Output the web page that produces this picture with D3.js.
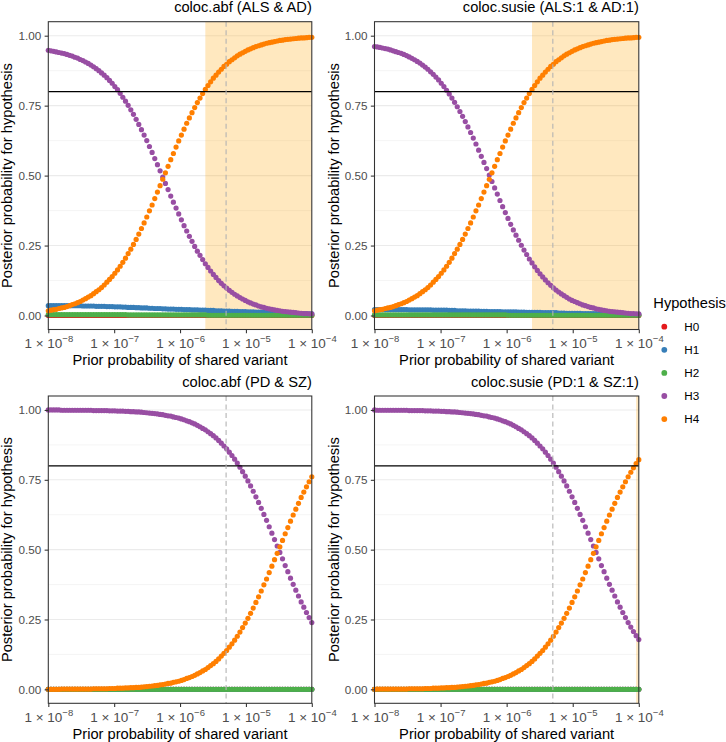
<!DOCTYPE html>
<html><head><meta charset="utf-8">
<script src="https://cdn.jsdelivr.net/npm/d3@7"></script>
<style>
body{margin:0;background:#fff}
svg{display:block}
text{font-family:"Liberation Sans",Arial,Helvetica,sans-serif}
</style>
</head><body>
<svg id="chart" width="726" height="742"></svg>
<script>
// ---------------- DATA ----------------
const hypotheses = ["H0", "H1", "H2", "H3", "H4"];
const hypColors = ["#E41A1C", "#377EB8", "#4DAF4A", "#984EA3", "#FF7F00"];
const panelTitles = ["coloc.abf (ALS & AD)", "coloc.susie (ALS:1 & AD:1)", "coloc.abf (PD & SZ)", "coloc.susie (PD:1 & SZ:1)"];
const xTickValues = [1e-8, 1e-7, 1e-6, 1e-5, 1e-4];
const xTickExponents = ["−8", "−7", "−6", "−5", "−4"];
const yTickValues = [0, 0.25, 0.5, 0.75, 1];
const yTickLabels = ["0.00", "0.25", "0.50", "0.75", "1.00"];
const yMinorValues = [0.125, 0.375, 0.625, 0.875];
const thresholdPP = 0.8;
const usedPrior = 5e-6;
const xTitle = "Prior probability of shared variant";
const yTitle = "Posterior probability for hypothesis";
const legendTitle = "Hypothesis";

// log10 of the prior probability of a shared variant (p12) at each point
const priorLog10 = [
-8.0000,-7.9596,-7.9192,-7.8788,-7.8384,-7.7980,-7.7576,-7.7172,-7.6768,-7.6364,
-7.5960,-7.5556,-7.5152,-7.4747,-7.4343,-7.3939,-7.3535,-7.3131,-7.2727,-7.2323,
-7.1919,-7.1515,-7.1111,-7.0707,-7.0303,-6.9899,-6.9495,-6.9091,-6.8687,-6.8283,
-6.7879,-6.7475,-6.7071,-6.6667,-6.6263,-6.5859,-6.5455,-6.5051,-6.4646,-6.4242,
-6.3838,-6.3434,-6.3030,-6.2626,-6.2222,-6.1818,-6.1414,-6.1010,-6.0606,-6.0202,
-5.9798,-5.9394,-5.8990,-5.8586,-5.8182,-5.7778,-5.7374,-5.6970,-5.6566,-5.6162,
-5.5758,-5.5354,-5.4949,-5.4545,-5.4141,-5.3737,-5.3333,-5.2929,-5.2525,-5.2121,
-5.1717,-5.1313,-5.0909,-5.0505,-5.0101,-4.9697,-4.9293,-4.8889,-4.8485,-4.8081,
-4.7677,-4.7273,-4.6869,-4.6465,-4.6061,-4.5657,-4.5253,-4.4848,-4.4444,-4.4040,
-4.3636,-4.3232,-4.2828,-4.2424,-4.2020,-4.1616,-4.1212,-4.0808,-4.0404,-4.0000];

// ---- Panel 1: coloc.abf (ALS & AD)
const alsAdAbf_H0 = [
0,0,0,0,0,0,0,0,0,0, 0,0,0,0,0,0,0,0,0,0, 0,0,0,0,0,0,0,0,0,0, 0,0,0,0,0,0,0,0,0,0, 0,0,0,0,0,0,0,0,0,0,
0,0,0,0,0,0,0,0,0,0, 0,0,0,0,0,0,0,0,0,0, 0,0,0,0,0,0,0,0,0,0, 0,0,0,0,0,0,0,0,0,0, 0,0,0,0,0,0,0,0,0,0];
const alsAdAbf_H1 = [
0.035,0.035,0.035,0.035,0.035,0.035,0.035,0.035,0.035,0.035,
0.035,0.035,0.035,0.034,0.034,0.034,0.034,0.034,0.033,0.033,
0.033,0.033,0.032,0.032,0.032,0.031,0.031,0.031,0.030,0.030,
0.029,0.029,0.029,0.028,0.028,0.027,0.027,0.027,0.026,0.026,
0.025,0.025,0.025,0.024,0.024,0.023,0.023,0.023,0.022,0.022,
0.022,0.021,0.021,0.021,0.020,0.020,0.020,0.019,0.019,0.019,
0.018,0.018,0.018,0.017,0.017,0.017,0.016,0.016,0.016,0.015,
0.015,0.015,0.014,0.014,0.014,0.013,0.013,0.013,0.012,0.012,
0.012,0.011,0.011,0.011,0.010,0.010,0.010,0.009,0.009,0.009,
0.008,0.008,0.008,0.008,0.007,0.007,0.007,0.007,0.006,0.006];
const alsAdAbf_H2 = [
0.003,0.003,0.003,0.003,0.003,0.003,0.003,0.003,0.003,0.003,
0.003,0.003,0.003,0.003,0.003,0.003,0.003,0.003,0.003,0.003,
0.003,0.003,0.003,0.003,0.003,0.003,0.003,0.003,0.003,0.003,
0.002,0.002,0.002,0.002,0.002,0.002,0.002,0.002,0.002,0.002,
0.002,0.002,0.002,0.002,0.002,0.002,0.002,0.002,0.002,0.002,
0.002,0.002,0.002,0.002,0.002,0.002,0.002,0.002,0.002,0.002,
0.001,0.001,0.001,0.001,0.001,0.001,0.001,0.001,0.001,0.001,
0.001,0.001,0.001,0.001,0.001,0.001,0.001,0.001,0.001,0.001,
0.001,0.001,0.001,0.001,0.001,0.001,0.001,0.001,0.001,0.001,
0.001,0.001,0.001,0.001,0.001,0.001,0.001,0.001,0.001,0.001];
const alsAdAbf_H3 = [
0.948,0.946,0.944,0.942,0.940,0.938,0.936,0.933,0.930,0.927,
0.923,0.920,0.915,0.911,0.906,0.901,0.895,0.889,0.882,0.875,
0.867,0.859,0.850,0.840,0.830,0.818,0.807,0.794,0.780,0.766,
0.751,0.735,0.719,0.701,0.683,0.664,0.645,0.625,0.604,0.583,
0.561,0.539,0.517,0.495,0.472,0.450,0.427,0.405,0.384,0.363,
0.342,0.321,0.302,0.283,0.265,0.247,0.230,0.215,0.200,0.185,
0.172,0.159,0.147,0.136,0.125,0.115,0.106,0.098,0.090,0.083,
0.076,0.070,0.064,0.059,0.054,0.049,0.045,0.041,0.038,0.034,
0.031,0.029,0.026,0.024,0.022,0.020,0.018,0.017,0.015,0.014,
0.013,0.012,0.011,0.010,0.009,0.008,0.007,0.007,0.006,0.006];
const alsAdAbf_H4 = [
0.017,0.019,0.021,0.022,0.025,0.027,0.029,0.032,0.035,0.039,
0.042,0.046,0.050,0.055,0.060,0.066,0.071,0.078,0.085,0.092,
0.100,0.109,0.119,0.129,0.139,0.151,0.163,0.176,0.190,0.205,
0.221,0.237,0.254,0.272,0.291,0.311,0.331,0.352,0.374,0.395,
0.418,0.441,0.464,0.487,0.510,0.533,0.557,0.579,0.602,0.624,
0.645,0.666,0.687,0.706,0.725,0.743,0.761,0.777,0.793,0.808,
0.822,0.835,0.848,0.859,0.870,0.880,0.890,0.898,0.907,0.914,
0.921,0.928,0.934,0.939,0.944,0.949,0.953,0.957,0.961,0.964,
0.967,0.970,0.973,0.975,0.977,0.979,0.981,0.983,0.984,0.986,
0.987,0.988,0.989,0.990,0.991,0.992,0.992,0.993,0.994,0.994];

// ---- Panel 2: coloc.susie (ALS:1 & AD:1)
const alsAdSusie_H0 = [
0,0,0,0,0,0,0,0,0,0, 0,0,0,0,0,0,0,0,0,0, 0,0,0,0,0,0,0,0,0,0, 0,0,0,0,0,0,0,0,0,0, 0,0,0,0,0,0,0,0,0,0,
0,0,0,0,0,0,0,0,0,0, 0,0,0,0,0,0,0,0,0,0, 0,0,0,0,0,0,0,0,0,0, 0,0,0,0,0,0,0,0,0,0, 0,0,0,0,0,0,0,0,0,0];
const alsAdSusie_H1 = [
0.021,0.021,0.021,0.021,0.021,0.021,0.021,0.021,0.021,0.021,
0.021,0.021,0.021,0.020,0.020,0.020,0.020,0.020,0.020,0.020,
0.020,0.020,0.019,0.019,0.019,0.019,0.019,0.019,0.018,0.018,
0.018,0.017,0.017,0.017,0.017,0.016,0.016,0.016,0.016,0.016,
0.015,0.015,0.015,0.014,0.014,0.014,0.014,0.014,0.013,0.013,
0.013,0.013,0.013,0.013,0.012,0.012,0.012,0.011,0.011,0.011,
0.011,0.011,0.011,0.010,0.010,0.010,0.010,0.010,0.010,0.009,
0.009,0.009,0.008,0.008,0.008,0.008,0.008,0.008,0.007,0.007,
0.007,0.007,0.007,0.007,0.006,0.006,0.006,0.005,0.005,0.005,
0.005,0.005,0.005,0.005,0.004,0.004,0.004,0.004,0.004,0.004];
const alsAdSusie_H2 = [
0.002,0.002,0.002,0.002,0.002,0.002,0.002,0.002,0.002,0.002,
0.002,0.002,0.002,0.002,0.002,0.002,0.002,0.002,0.002,0.002,
0.002,0.002,0.002,0.002,0.002,0.002,0.002,0.002,0.002,0.002,
0.002,0.002,0.002,0.002,0.002,0.002,0.002,0.002,0.002,0.002,
0.002,0.002,0.002,0.002,0.002,0.002,0.002,0.002,0.002,0.002,
0.001,0.001,0.001,0.001,0.001,0.001,0.001,0.001,0.001,0.001,
0.001,0.001,0.001,0.001,0.001,0.001,0.001,0.001,0.001,0.001,
0.001,0.001,0.001,0.001,0.001,0.001,0.001,0.001,0.001,0.001,
0.001,0.001,0.001,0.001,0.001,0.001,0.001,0.001,0.001,0.001,
0.001,0.001,0.001,0.001,0.001,0.001,0.001,0.001,0.001,0.001];
const alsAdSusie_H3 = [
0.961,0.960,0.958,0.956,0.954,0.952,0.949,0.946,0.943,0.940,
0.937,0.933,0.929,0.924,0.919,0.914,0.908,0.902,0.895,0.888,
0.880,0.871,0.862,0.852,0.842,0.830,0.818,0.805,0.792,0.777,
0.762,0.746,0.729,0.712,0.693,0.674,0.654,0.634,0.613,0.591,
0.569,0.547,0.525,0.502,0.479,0.456,0.434,0.411,0.389,0.368,
0.347,0.326,0.306,0.287,0.269,0.251,0.234,0.218,0.202,0.188,
0.174,0.161,0.149,0.138,0.127,0.117,0.108,0.099,0.091,0.084,
0.077,0.071,0.065,0.059,0.054,0.050,0.046,0.042,0.038,0.035,
0.032,0.029,0.027,0.024,0.022,0.020,0.018,0.017,0.015,0.014,
0.013,0.012,0.011,0.010,0.009,0.008,0.007,0.007,0.006,0.006];
const alsAdSusie_H4 = [
0.017,0.019,0.021,0.022,0.025,0.027,0.029,0.032,0.035,0.039,
0.042,0.046,0.050,0.055,0.060,0.066,0.071,0.078,0.085,0.092,
0.100,0.109,0.119,0.129,0.139,0.151,0.163,0.176,0.190,0.205,
0.221,0.237,0.254,0.272,0.291,0.311,0.331,0.352,0.374,0.395,
0.418,0.441,0.464,0.487,0.510,0.533,0.557,0.579,0.602,0.624,
0.645,0.666,0.687,0.706,0.725,0.743,0.761,0.777,0.793,0.808,
0.822,0.835,0.848,0.859,0.870,0.880,0.890,0.898,0.907,0.914,
0.921,0.928,0.934,0.939,0.944,0.949,0.953,0.957,0.961,0.964,
0.967,0.970,0.973,0.975,0.977,0.979,0.981,0.983,0.984,0.986,
0.987,0.988,0.989,0.990,0.991,0.992,0.992,0.993,0.994,0.994];

// ---- Panel 3: coloc.abf (PD & SZ)
const pdSzAbf_H0 = [
0,0,0,0,0,0,0,0,0,0, 0,0,0,0,0,0,0,0,0,0, 0,0,0,0,0,0,0,0,0,0, 0,0,0,0,0,0,0,0,0,0, 0,0,0,0,0,0,0,0,0,0,
0,0,0,0,0,0,0,0,0,0, 0,0,0,0,0,0,0,0,0,0, 0,0,0,0,0,0,0,0,0,0, 0,0,0,0,0,0,0,0,0,0, 0,0,0,0,0,0,0,0,0,0];
const pdSzAbf_H1 = [
0,0,0,0,0,0,0,0,0,0, 0,0,0,0,0,0,0,0,0,0, 0,0,0,0,0,0,0,0,0,0, 0,0,0,0,0,0,0,0,0,0, 0,0,0,0,0,0,0,0,0,0,
0,0,0,0,0,0,0,0,0,0, 0,0,0,0,0,0,0,0,0,0, 0,0,0,0,0,0,0,0,0,0, 0,0,0,0,0,0,0,0,0,0, 0,0,0,0,0,0,0,0,0,0];
const pdSzAbf_H2 = [
0,0,0,0,0,0,0,0,0,0, 0,0,0,0,0,0,0,0,0,0, 0,0,0,0,0,0,0,0,0,0, 0,0,0,0,0,0,0,0,0,0, 0,0,0,0,0,0,0,0,0,0,
0,0,0,0,0,0,0,0,0,0, 0,0,0,0,0,0,0,0,0,0, 0,0,0,0,0,0,0,0,0,0, 0,0,0,0,0,0,0,0,0,0, 0,0,0,0,0,0,0,0,0,0];
const pdSzAbf_H3 = [
1.000,1.000,1.000,1.000,1.000,0.999,0.999,0.999,0.999,0.999,
0.999,0.999,0.999,0.999,0.999,0.999,0.999,0.998,0.998,0.998,
0.998,0.998,0.998,0.997,0.997,0.997,0.996,0.996,0.996,0.995,
0.995,0.994,0.994,0.993,0.993,0.992,0.991,0.990,0.989,0.988,
0.987,0.986,0.984,0.983,0.981,0.979,0.978,0.975,0.973,0.971,
0.968,0.965,0.961,0.958,0.954,0.950,0.945,0.940,0.934,0.929,
0.922,0.915,0.908,0.900,0.891,0.881,0.871,0.861,0.849,0.837,
0.824,0.810,0.795,0.779,0.763,0.746,0.728,0.709,0.689,0.669,
0.648,0.626,0.605,0.582,0.559,0.536,0.513,0.490,0.467,0.443,
0.421,0.398,0.376,0.355,0.334,0.313,0.294,0.275,0.257,0.239];
const pdSzAbf_H4 = [
0.000,0.000,0.000,0.000,0.000,0.001,0.001,0.001,0.001,0.001,
0.001,0.001,0.001,0.001,0.001,0.001,0.001,0.002,0.002,0.002,
0.002,0.002,0.002,0.003,0.003,0.003,0.004,0.004,0.004,0.005,
0.005,0.006,0.006,0.007,0.007,0.008,0.009,0.010,0.011,0.012,
0.013,0.014,0.016,0.017,0.019,0.021,0.022,0.025,0.027,0.029,
0.032,0.035,0.039,0.042,0.046,0.050,0.055,0.060,0.066,0.071,
0.078,0.085,0.092,0.100,0.109,0.119,0.129,0.139,0.151,0.163,
0.176,0.190,0.205,0.221,0.237,0.254,0.272,0.291,0.311,0.331,
0.352,0.374,0.395,0.418,0.441,0.464,0.487,0.510,0.533,0.557,
0.579,0.602,0.624,0.645,0.666,0.687,0.706,0.725,0.743,0.761];

// ---- Panel 4: coloc.susie (PD:1 & SZ:1)
const pdSzSusie_H0 = [
0,0,0,0,0,0,0,0,0,0, 0,0,0,0,0,0,0,0,0,0, 0,0,0,0,0,0,0,0,0,0, 0,0,0,0,0,0,0,0,0,0, 0,0,0,0,0,0,0,0,0,0,
0,0,0,0,0,0,0,0,0,0, 0,0,0,0,0,0,0,0,0,0, 0,0,0,0,0,0,0,0,0,0, 0,0,0,0,0,0,0,0,0,0, 0,0,0,0,0,0,0,0,0,0];
const pdSzSusie_H1 = [
0,0,0,0,0,0,0,0,0,0, 0,0,0,0,0,0,0,0,0,0, 0,0,0,0,0,0,0,0,0,0, 0,0,0,0,0,0,0,0,0,0, 0,0,0,0,0,0,0,0,0,0,
0,0,0,0,0,0,0,0,0,0, 0,0,0,0,0,0,0,0,0,0, 0,0,0,0,0,0,0,0,0,0, 0,0,0,0,0,0,0,0,0,0, 0,0,0,0,0,0,0,0,0,0];
const pdSzSusie_H2 = [
0,0,0,0,0,0,0,0,0,0, 0,0,0,0,0,0,0,0,0,0, 0,0,0,0,0,0,0,0,0,0, 0,0,0,0,0,0,0,0,0,0, 0,0,0,0,0,0,0,0,0,0,
0,0,0,0,0,0,0,0,0,0, 0,0,0,0,0,0,0,0,0,0, 0,0,0,0,0,0,0,0,0,0, 0,0,0,0,0,0,0,0,0,0, 0,0,0,0,0,0,0,0,0,0];
const pdSzSusie_H3 = [
1.000,0.999,0.999,0.999,0.999,0.999,0.999,0.999,0.999,0.999,
0.999,0.999,0.999,0.998,0.998,0.998,0.998,0.998,0.998,0.997,
0.997,0.997,0.996,0.996,0.996,0.995,0.995,0.994,0.994,0.993,
0.993,0.992,0.991,0.990,0.989,0.988,0.987,0.986,0.984,0.983,
0.981,0.979,0.978,0.975,0.973,0.971,0.968,0.965,0.961,0.958,
0.954,0.950,0.945,0.940,0.934,0.929,0.922,0.915,0.908,0.900,
0.891,0.881,0.871,0.861,0.849,0.837,0.824,0.810,0.795,0.779,
0.763,0.746,0.728,0.709,0.689,0.669,0.648,0.626,0.605,0.582,
0.559,0.536,0.513,0.490,0.467,0.443,0.421,0.398,0.376,0.355,
0.334,0.313,0.294,0.275,0.257,0.239,0.223,0.207,0.192,0.178];
const pdSzSusie_H4 = [
0.000,0.001,0.001,0.001,0.001,0.001,0.001,0.001,0.001,0.001,
0.001,0.001,0.001,0.002,0.002,0.002,0.002,0.002,0.002,0.003,
0.003,0.003,0.004,0.004,0.004,0.005,0.005,0.006,0.006,0.007,
0.007,0.008,0.009,0.010,0.011,0.012,0.013,0.014,0.016,0.017,
0.019,0.021,0.022,0.025,0.027,0.029,0.032,0.035,0.039,0.042,
0.046,0.050,0.055,0.060,0.066,0.071,0.078,0.085,0.092,0.100,
0.109,0.119,0.129,0.139,0.151,0.163,0.176,0.190,0.205,0.221,
0.237,0.254,0.272,0.291,0.311,0.331,0.352,0.374,0.395,0.418,
0.441,0.464,0.487,0.510,0.533,0.557,0.579,0.602,0.624,0.645,
0.666,0.687,0.706,0.725,0.743,0.761,0.777,0.793,0.808,0.822];

const panelSeries = [
  [alsAdAbf_H0, alsAdAbf_H1, alsAdAbf_H2, alsAdAbf_H3, alsAdAbf_H4],
  [alsAdSusie_H0, alsAdSusie_H1, alsAdSusie_H2, alsAdSusie_H3, alsAdSusie_H4],
  [pdSzAbf_H0, pdSzAbf_H1, pdSzAbf_H2, pdSzAbf_H3, pdSzAbf_H4],
  [pdSzSusie_H0, pdSzSusie_H1, pdSzSusie_H2, pdSzSusie_H3, pdSzSusie_H4]
];

// ---------------- LAYOUT ----------------
const panelBoxes = [
  {x0: 48.3, x1: 311.8, y0: 21.7, y1: 329.5},
  {x0: 374.5, x1: 638.8, y0: 21.7, y1: 329.5},
  {x0: 48.3, x1: 311.8, y0: 396.0, y1: 703.3},
  {x0: 374.5, x1: 638.8, y0: 396.0, y1: 703.3}
];
const tickLen = 3.67;
const gray20 = "#333333";
const axisTextCol = "#4D4D4D";

const svg = d3.select("#chart");
svg.append("rect").attr("width", 726).attr("height", 742).attr("fill", "#fff");

panelSeries.forEach((series, pi) => {
  const b = panelBoxes[pi];
  const x = d3.scaleLog().domain([1e-8, 1e-4]).range([b.x0, b.x1]);
  const y = d3.scaleLinear().domain([-0.05, 1.05]).range([b.y1, b.y0]);
  const g = svg.append("g");

  // grid
  g.selectAll("line.minor").data(yMinorValues).enter().append("line")
    .attr("x1", b.x0).attr("x2", b.x1).attr("y1", d => y(d)).attr("y2", d => y(d))
    .attr("stroke", "#EBEBEB").attr("stroke-width", 0.55);
  g.selectAll("line.major").data(yTickValues).enter().append("line")
    .attr("x1", b.x0).attr("x2", b.x1).attr("y1", d => y(d)).attr("y2", d => y(d))
    .attr("stroke", "#EBEBEB").attr("stroke-width", 1.07);

  // shaded region where H4 >= threshold
  const h4 = series[4];
  const firstIdx = h4.findIndex(v => v >= thresholdPP);
  if (firstIdx >= 0) {
    const xs = x(Math.pow(10, priorLog10[firstIdx]));
    g.append("rect").attr("x", xs).attr("y", b.y0)
      .attr("width", b.x1 - xs).attr("height", b.y1 - b.y0)
      .attr("fill", "rgb(255,165,0)").attr("fill-opacity", 0.25);
  }

  // points
  series.forEach((vals, hi) => {
    g.append("g").selectAll("circle").data(vals).enter().append("circle")
      .attr("cx", (d, i) => x(Math.pow(10, priorLog10[i])))
      .attr("cy", d => y(d))
      .attr("r", 2.6)
      .attr("fill", hypColors[hi]);
  });

  // threshold & used prior lines
  g.append("line").attr("x1", b.x0).attr("x2", b.x1)
    .attr("y1", y(thresholdPP)).attr("y2", y(thresholdPP))
    .attr("stroke", "#000").attr("stroke-width", 1.1);
  g.append("line").attr("x1", x(usedPrior)).attr("x2", x(usedPrior))
    .attr("y1", b.y0).attr("y2", b.y1)
    .attr("stroke", "#B3B3B3").attr("stroke-width", 1.1)
    .attr("stroke-dasharray", "5,3.5");

  // border
  g.append("rect").attr("x", b.x0).attr("y", b.y0)
    .attr("width", b.x1 - b.x0).attr("height", b.y1 - b.y0)
    .attr("fill", "none").attr("stroke", gray20).attr("stroke-width", 1.07);

  // y axis
  const yAxis = d3.axisLeft(y).tickValues(yTickValues)
    .tickFormat((d, i) => yTickLabels[i]).tickSize(tickLen).tickPadding(3.4);
  const ya = g.append("g").attr("transform", `translate(${b.x0},0)`).call(yAxis);
  ya.select(".domain").remove();
  ya.selectAll(".tick line").attr("stroke", gray20).attr("stroke-width", 1.07);
  ya.selectAll(".tick text").attr("fill", axisTextCol).attr("font-size", "11.7px")
    .attr("font-family", '"Liberation Sans",Arial,Helvetica,sans-serif');

  // x axis
  const xAxis = d3.axisBottom(x).tickValues(xTickValues).tickFormat("").tickSize(tickLen);
  const xa = g.append("g").attr("transform", `translate(0,${b.y1})`).call(xAxis);
  xa.select(".domain").remove();
  xa.selectAll(".tick line").attr("stroke", gray20).attr("stroke-width", 1.07);
  xa.selectAll(".tick text").remove();
  xa.selectAll(".tick").each(function (d, i) {
    const t = d3.select(this).append("text")
      .attr("y", 18.7).attr("text-anchor", "middle")
      .attr("fill", axisTextCol).attr("font-size", "13.5px");
    t.append("tspan").text("1 × 10");
    t.append("tspan").attr("dy", -6).attr("font-size", "9.5px").text(xTickExponents[i]);
  });

  // titles
  g.append("text").attr("x", b.x1).attr("y", b.y0 - 9.4)
    .attr("text-anchor", "end").attr("font-size", "14.67px").attr("fill", "#000")
    .text(panelTitles[pi]);
  g.append("text").attr("x", (b.x0 + b.x1) / 2).attr("y", b.y1 + 35.5)
    .attr("text-anchor", "middle").attr("font-size", "14.67px").attr("fill", "#000")
    .text(xTitle);
  g.append("text")
    .attr("transform", `translate(${b.x0 - 36},${(b.y0 + b.y1) / 2}) rotate(-90)`)
    .attr("text-anchor", "middle").attr("font-size", "14.67px").attr("fill", "#000")
    .text(yTitle);
});

// legend
const lg = svg.append("g");
lg.append("text").attr("x", 653.3).attr("y", 307.5).attr("font-size", "14.67px")
  .attr("fill", "#000").text(legendTitle);
hypotheses.forEach((h, i) => {
  const cy = 326.7 + i * 23.1;
  lg.append("circle").attr("cx", 664.3).attr("cy", cy).attr("r", 2.9).attr("fill", hypColors[i]);
  lg.append("text").attr("x", 684.3).attr("y", cy + 4.2).attr("font-size", "11.7px")
    .attr("fill", "#000").text(h);
});
</script>
</body></html>
